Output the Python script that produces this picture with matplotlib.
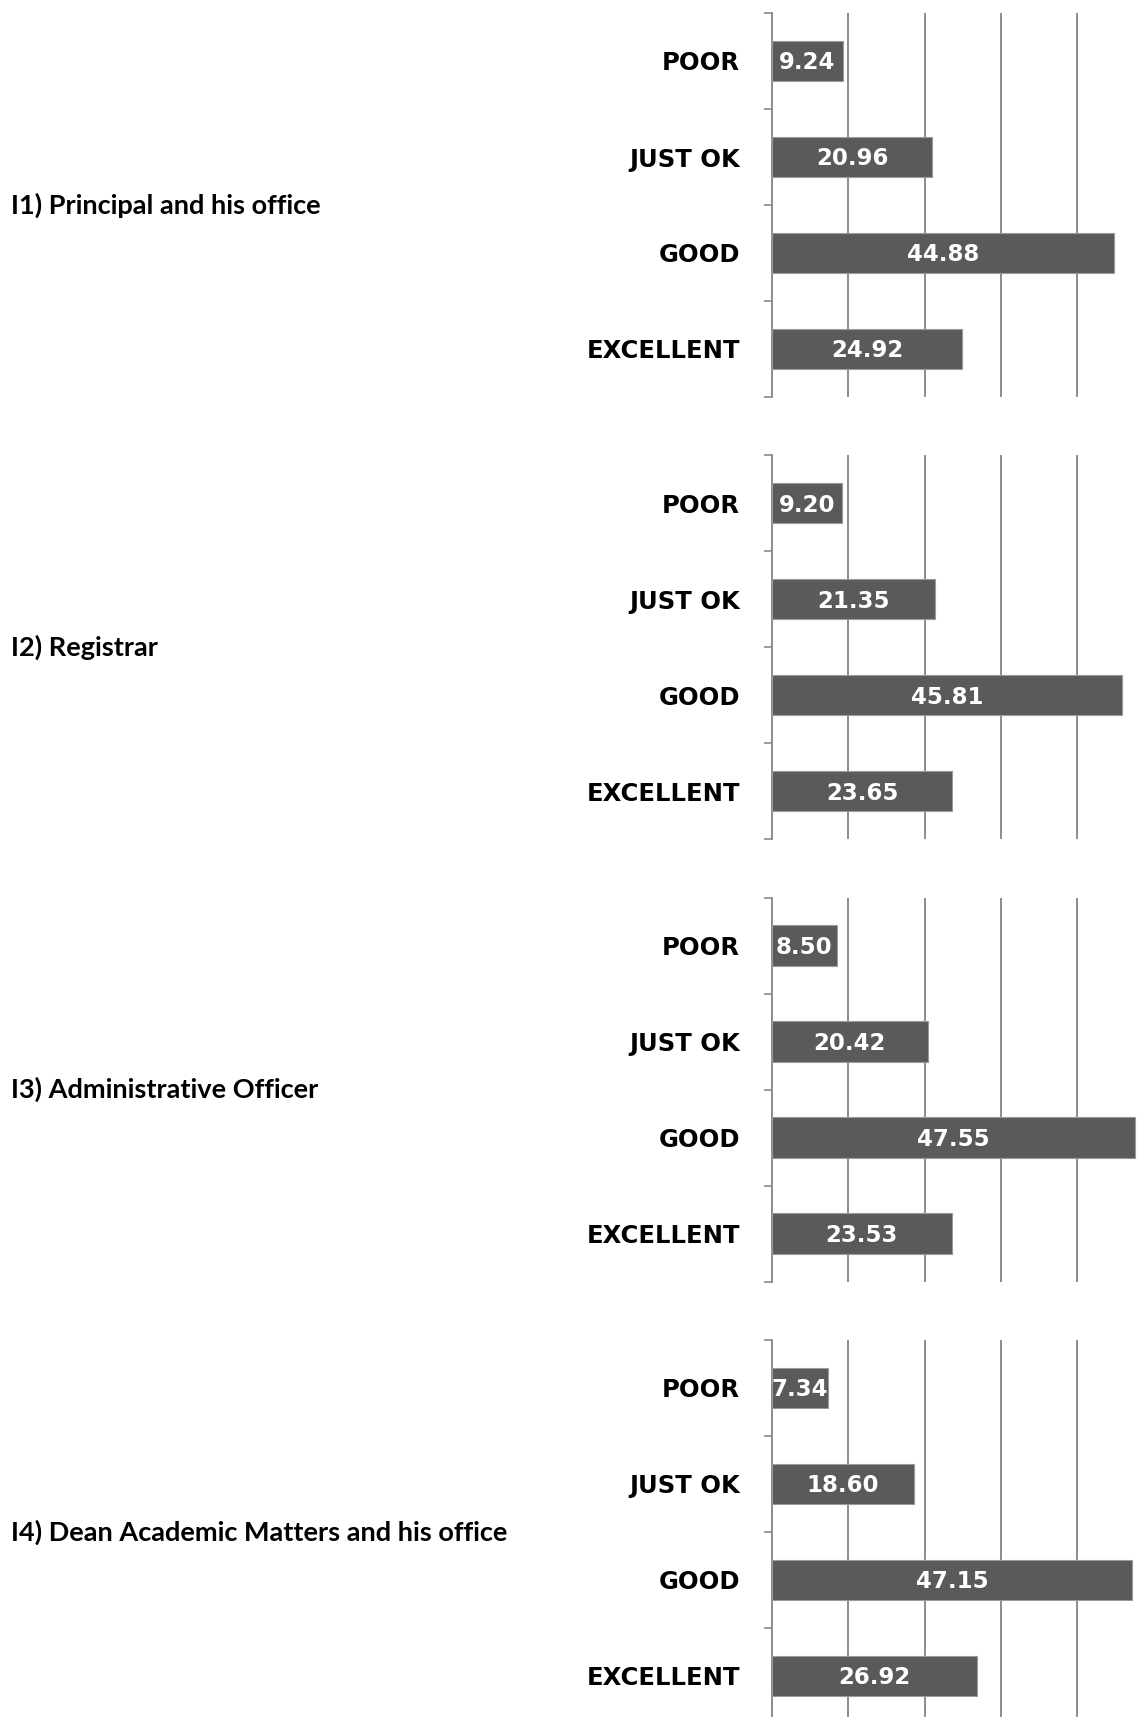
import matplotlib
matplotlib.use('Agg')
import matplotlib.pyplot as plt

# ratings shown on each chart, top to bottom
ratings = ['POOR', 'JUST OK', 'GOOD', 'EXCELLENT']

titles = ['I1) Principal and his office',
          'I2) Registrar',
          'I3) Administrative Officer',
          'I4) Dean Academic Matters and his office']

principal = [9.24, 20.96, 44.88, 24.92]
registrar = [9.20, 21.35, 45.81, 23.65]
admin_officer = [8.50, 20.42, 47.55, 23.53]
dean_academic = [7.34, 18.60, 47.15, 26.92]

all_values = [principal, registrar, admin_officer, dean_academic]

W, H = 1147, 1717
fig = plt.figure(figsize=(W / 100, H / 100), dpi=100)

bar_color = '#5a5a5a'
grid_color = '#8c8c8c'

# panel geometry in pixels
ax_left = 772
px_per_unit = 7.63
panel_h = 384
panel_step = 442.3
first_top = 13

for i, (title, vals) in enumerate(zip(titles, all_values)):
    top = first_top + i * panel_step
    ax = fig.add_axes([ax_left / W, 1 - (top + panel_h) / H,
                       50 * px_per_unit / W, panel_h / H])
    ax.set_xlim(0, 50)
    ax.set_ylim(3.5, -0.5)

    ypos = list(range(len(ratings)))
    bars = ax.barh(ypos, vals, height=0.42, color=bar_color,
                   edgecolor='#9a9a9a', linewidth=0.8, zorder=3)

    for b, v, y in zip(bars, vals, ypos):
        t = ax.text(v / 2, y + 0.02, '%.2f' % v, ha='center', va='center',
                    color='white', fontsize=16.5, fontweight='bold',
                    family='DejaVu Sans', zorder=4, clip_on=True)
        t.set_clip_path(b)

    # vertical gridlines
    for g in [10, 20, 30, 40, 50]:
        ax.axvline(g, color=grid_color, linewidth=1.4, zorder=1)

    for s in ['top', 'right', 'bottom']:
        ax.spines[s].set_visible(False)
    ax.spines['left'].set_color(grid_color)
    ax.spines['left'].set_linewidth(1.4)

    ax.set_xticks([])
    ax.set_yticks(ypos)
    ax.set_yticklabels(ratings, fontsize=17.5, fontweight='bold',
                       family='DejaVu Sans')
    ax.tick_params(axis='y', which='major', length=0, pad=23)
    ax.set_yticks([-0.5, 0.5, 1.5, 2.5, 3.5], minor=True)
    ax.tick_params(axis='y', which='minor', length=6, width=1.2,
                   color=grid_color)

    fig.text(11 / W, 1 - (top + panel_h / 2) / H, title,
             ha='left', va='center', fontsize=19.5, fontweight='bold',
             family='Lato')

fig.savefig('out.png', dpi=100)
